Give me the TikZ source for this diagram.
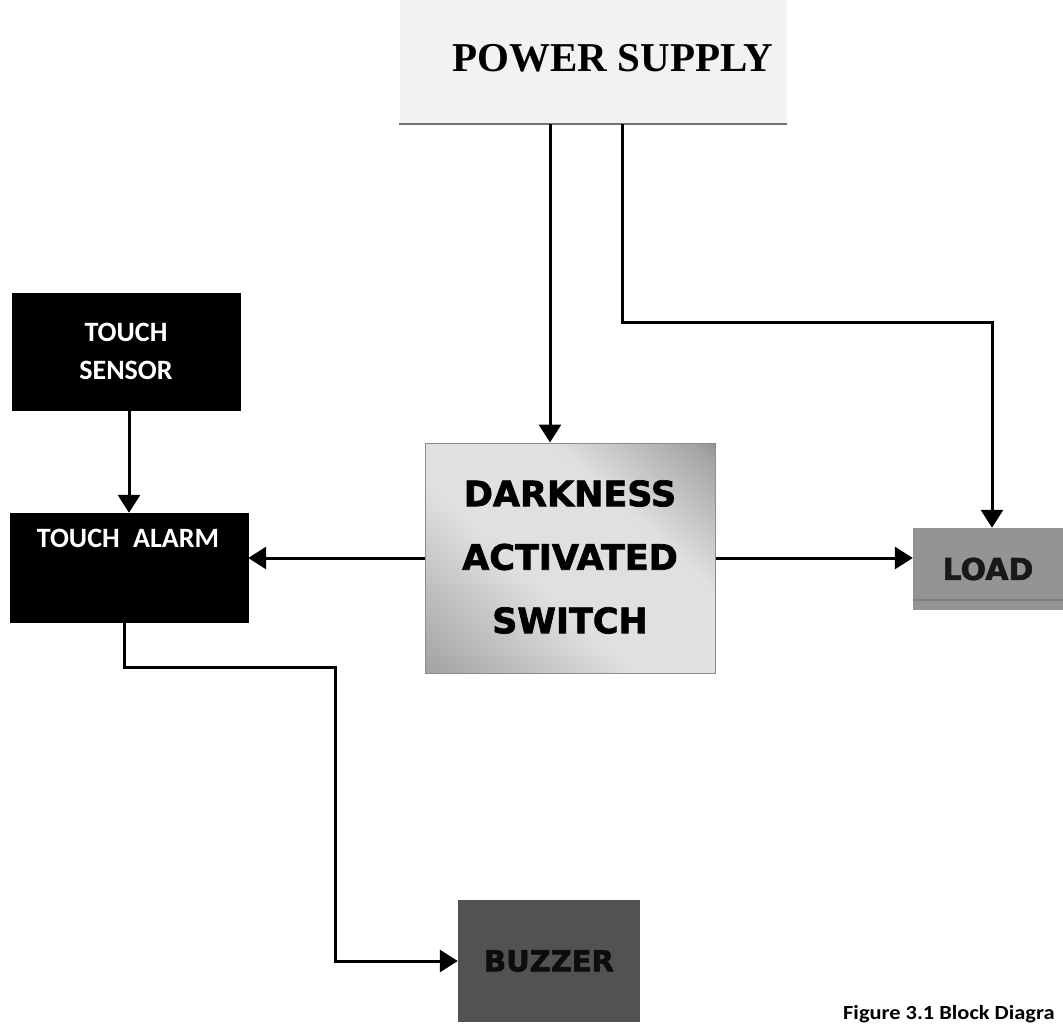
\documentclass[tikz,border=0pt]{standalone}
\usepackage{fontspec}
\usetikzlibrary{arrows.meta,calc}
\newfontfamily\psfont{Liberation Serif}
\newfontfamily\calfont{Carlito}
\newfontfamily\heavyfont{DejaVu Sans}[BoldFeatures={FakeBold=2}]
\pgfdeclareverticalshading{dsshade}{100bp}{color(0bp)=(black!50); color(22bp)=(black!30); color(42bp)=(black!12); color(64bp)=(black!12); color(82bp)=(black!35); color(100bp)=(black!78)}
\begin{document}
\begin{tikzpicture}[x=1pt,y=-1pt,
  arr/.style={line width=3pt,-{Triangle[width=22pt,length=18pt]}},
  blackbox/.style={draw=black,fill=black,text=white,inner sep=0pt,
    font=\calfont\bfseries\fontsize{28}{38}\selectfont,align=center},
  heavytext/.style={font=\heavyfont\bfseries\fontsize{35}{63.5}\selectfont,align=center}]
\useasboundingbox (0,0) rectangle (1063,1025);
% power supply
\node[fill=black!5,minimum width=387pt,minimum height=124pt,inner sep=0pt] (ps) at (593,62) {};
\draw[black!55,line width=2pt] (ps.south west) -- (ps.south east);
\node[font=\psfont\bfseries\fontsize{41}{48}\selectfont] (pslabel) at (613,58) {POWER SUPPLY};
% touch sensor
\node[blackbox,minimum width=228pt,minimum height=117pt] (ts) at (126,351.5) {TOUCH\\SENSOR};
% touch alarm
\node[blackbox,minimum width=238pt,minimum height=109pt] (ta) at (129,567.5) {};
\node[font=\calfont\bfseries\fontsize{28}{34}\selectfont,text=white] (talabel) at (128,538) {TOUCH\hspace{0.25em} ALARM};
% darkness activated switch
\node[draw=black!45,line width=1pt,minimum width=290pt,minimum height=230pt,inner sep=0pt,
  shading=dsshade,shading angle=-42] (ds) at (570,558) {};
\node[heavytext] (dslabel) at (570,557) {DARKNESS\\ACTIVATED\\SWITCH};
% load
\node[fill=black!42,minimum width=150pt,minimum height=82pt,inner sep=0pt,
  font=\heavyfont\bfseries\fontsize{30}{36}\selectfont,text=black!90] (load) at (988,569) {LOAD};
\draw[black!50,line width=2pt] ([yshift=10pt]load.south west) -- ([yshift=10pt]load.south east);
% buzzer
\node[fill=black!68,minimum width=182pt,minimum height=122pt,inner sep=0pt,
  font=\heavyfont\bfseries\fontsize{29}{34}\selectfont,text=black!95] (bz) at (549,961) {BUZZER};
% caption
\node[anchor=west,inner sep=0pt,font=\calfont\bfseries\fontsize{20}{24}\selectfont] (cap) at (843,1014) {\scalebox{1.12}[1]{Figure 3.1 Block Diagra}};
% connectors
\coordinate (k1) at (622,322);
\coordinate (k2) at (335,667);
\coordinate (k3) at (129,410);
\draw[arr] ([xshift=-20pt]ds.north |- ps.south) -- ([xshift=-20pt]ds.north);
\draw[arr] (k1 |- ps.south) -- (k1) -| ([xshift=4pt]load.north);
\draw[arr] (k3) -- (k3 |- ta.north);
\draw[arr] (ds.west) -- (ds.west -| ta.east);
\draw[arr] (ds.east) -- (ds.east -| load.west);
\draw[arr] ([xshift=-5pt]ta.south) |- (k2) |- (bz.west);
\end{tikzpicture}
\end{document}
